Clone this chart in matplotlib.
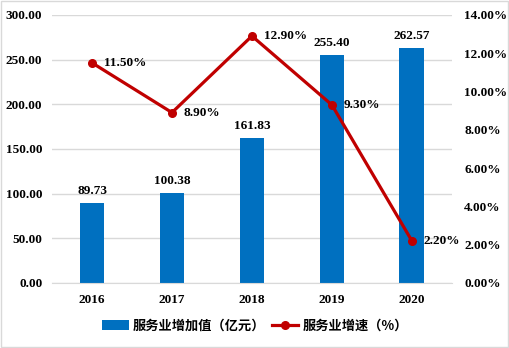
import matplotlib.pyplot as plt
from matplotlib.ticker import FuncFormatter

years = ["2016", "2017", "2018", "2019", "2020"]
added_value = [89.73, 100.38, 161.83, 255.40, 262.57]
growth = [11.50, 8.90, 12.90, 9.30, 2.20]

bar_color = "#0070C0"
line_color = "#C00000"
serif = ["Liberation Serif", "Noto Sans CJK SC"]
cjk = ["Noto Sans CJK SC", "DejaVu Sans"]

fig = plt.figure(figsize=(5.1, 3.48), dpi=100)
ax = fig.add_axes([0.102, 0.187, 0.784, 0.770])
ax2 = ax.twinx()

x = range(len(years))
bars = ax.bar(x, added_value, width=0.31, color=bar_color, zorder=2,
              label="服务业增加值（亿元）")
ax.set_ylim(0, 300)
ax.set_yticks([0, 50, 100, 150, 200, 250, 300])
ax.yaxis.set_major_formatter(FuncFormatter(lambda v, p: f"{v:.2f}"))
ax.grid(axis="y", color="#d9d9d9", linewidth=1, zorder=0)
ax.set_axisbelow(True)
ax.set_xlim(-0.5, len(years) - 0.5)
ax.set_xticks(list(x))
ax.set_xticklabels(years)

for xi, v in zip(x, added_value):
    ax.text(xi, v + 7, f"{v:.2f}", ha="center", va="bottom",
            fontsize=9.5, fontweight="bold", family=serif)

line, = ax2.plot(x, growth, color=line_color, linewidth=2.3, marker="o",
                 markersize=5.5, label="服务业增速（%）", zorder=3)
ax2.set_ylim(0, 14)
ax2.set_yticks(range(0, 15, 2))
ax2.yaxis.set_major_formatter(FuncFormatter(lambda v, p: f"{v:.2f}%"))
for xi, v in zip(x, growth):
    ax2.text(xi + 0.15, v, f"{v:.2f}%", ha="left", va="center",
             fontsize=9.5, fontweight="bold", family=serif)

for a in (ax, ax2):
    for s in a.spines.values():
        s.set_visible(False)
    a.tick_params(length=0, labelsize=9.5)
    for lab in a.get_yticklabels() + a.get_xticklabels():
        lab.set_family(serif)
        lab.set_fontweight("bold")
ax.spines["bottom"].set_visible(True)
ax.spines["bottom"].set_color("#d9d9d9")
ax.tick_params(axis="x", pad=8)
ax.tick_params(axis="y", pad=7)
ax2.tick_params(axis="y", pad=9)

fig.legend([bars, line], ["服务业增加值（亿元）", "服务业增速（%）"],
           loc="center", bbox_to_anchor=(0.5, 0.064), ncol=2, frameon=False,
           prop={"family": cjk, "weight": "bold", "size": 9.5},
           handlelength=2.0, columnspacing=0.5, handletextpad=0.3)

fig.patches.append(plt.Rectangle((0.002, 0.003), 0.995, 0.993,
                                 transform=fig.transFigure, fill=False,
                                 edgecolor="#d9d9d9", linewidth=1))

fig.savefig("out.png", dpi=100)
